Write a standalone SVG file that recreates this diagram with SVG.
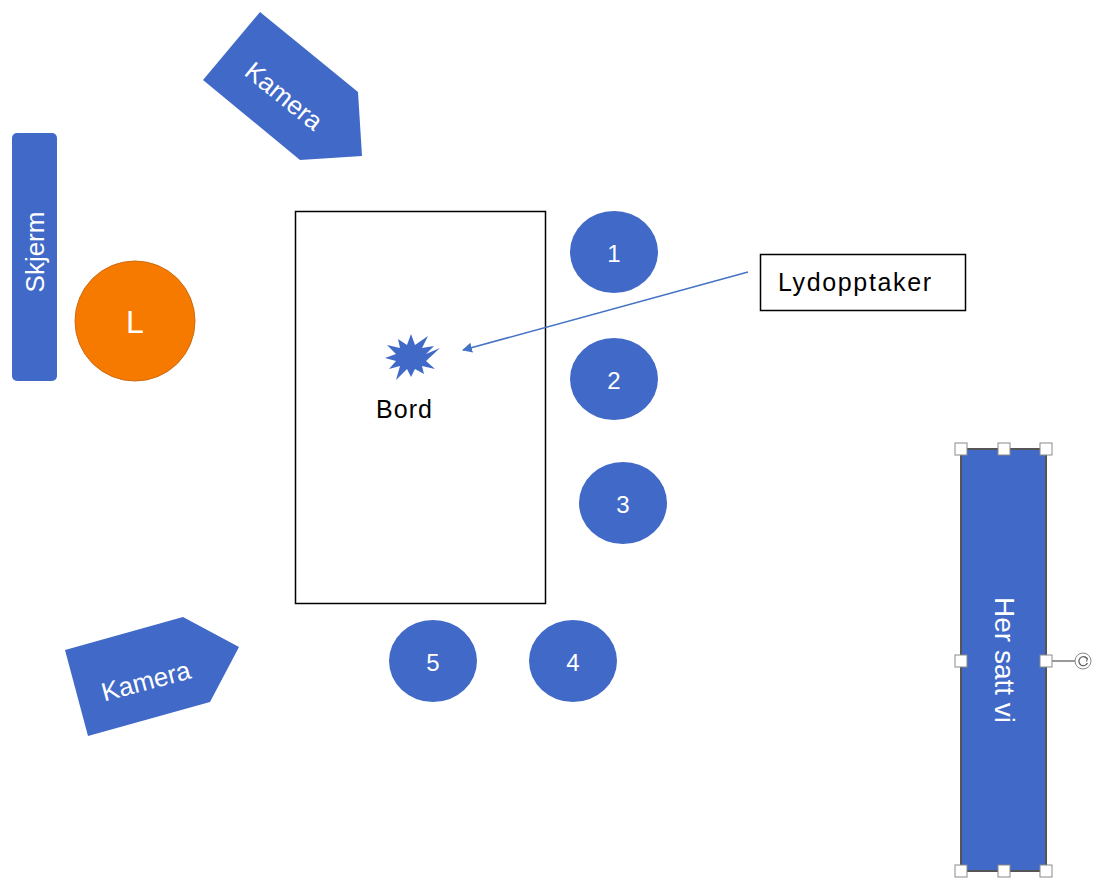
<svg xmlns="http://www.w3.org/2000/svg" width="1095" height="881" viewBox="0 0 1095 881">
<style>
.blue{fill:#4169C8;}
.seat{fill:#4169C8;}
.wt{fill:#ffffff;font-family:"Liberation Sans",Arial,sans-serif;text-anchor:middle;dominant-baseline:central;}
.bt{fill:#000000;font-family:"Liberation Sans",Arial,sans-serif;}
.handle{fill:#ffffff;stroke:#8a8a8a;stroke-width:1;}
</style>
<defs>
<marker id="ah" viewBox="0 0 10 10" refX="9" refY="5" markerWidth="10" markerHeight="10" markerUnits="userSpaceOnUse" orient="auto">
<path d="M0,0 L10,5 L0,10 z" fill="#4472C4"/>
</marker>
</defs>
<rect width="1095" height="881" fill="#ffffff"/>

<g id="kamera-top">
<polygon class="blue" points="260,12 358,92 362,156 300,160 203,80"/>
<text class="wt" font-size="26" transform="translate(284,96) rotate(39)">Kamera</text>
</g>

<g id="kamera-bottom">
<polygon class="blue" points="65,650 183,617 239,647 210,702 88,736"/>
<text class="wt" font-size="26" transform="translate(146,681) rotate(-15)">Kamera</text>
</g>

<g id="skjerm">
<rect class="blue" x="12" y="133" width="45" height="248" rx="5"/>
<text class="wt" font-size="26" transform="translate(35,252) rotate(-90)">Skjerm</text>
</g>

<g id="L">
<circle cx="135" cy="321" r="60" fill="#F77A00" stroke="#D06A10" stroke-width="1"/>
<text class="wt" font-size="32" x="135" y="322">L</text>
</g>

<g id="bord">
<rect x="295.5" y="211.5" width="250" height="392" fill="#ffffff" stroke="#000000" stroke-width="1.5"/>
<polygon class="blue" points="440,348 426,354 434,346 422,348 428,336 415,345 411,334 407,345 398,339 400,348 387,345 396,354 385,358 396,361 389,369 400,366 396,380 407,369 411,377 415,369 424,374 422,366 435,369 426,361"/>
<text class="bt" font-size="25" x="404" y="418" text-anchor="middle" textLength="56">Bord</text>
</g>

<g id="seat1"><ellipse class="seat" cx="614" cy="252" rx="44" ry="41"/><text class="wt" font-size="24" x="614" y="253">1</text></g>
<g id="seat2"><ellipse class="seat" cx="614" cy="379" rx="44" ry="41"/><text class="wt" font-size="24" x="614" y="380">2</text></g>
<g id="seat3"><ellipse class="seat" cx="623" cy="503" rx="44" ry="41"/><text class="wt" font-size="24" x="623" y="504">3</text></g>
<g id="seat4"><ellipse class="seat" cx="573" cy="661" rx="44" ry="41"/><text class="wt" font-size="24" x="573" y="662">4</text></g>
<g id="seat5"><ellipse class="seat" cx="433" cy="661" rx="44" ry="41"/><text class="wt" font-size="24" x="433" y="662">5</text></g>

<g id="lydopptaker">
<rect x="760.5" y="254.5" width="205" height="56" fill="#ffffff" stroke="#000000" stroke-width="1.5"/>
<text class="bt" font-size="25" x="778" y="291" textLength="153">Lydopptaker</text>
</g>

<g id="her-satt-vi">
<rect x="961" y="449" width="85" height="422" fill="#4169C8" stroke="#555555" stroke-width="2"/>
<text class="wt" font-size="28" transform="translate(1004,660) rotate(90)">Her satt vi</text>
<line x1="1052" y1="661" x2="1075" y2="661" stroke="#555555" stroke-width="1.2"/>
<circle cx="1083" cy="661" r="8" fill="#ffffff" stroke="#8a8a8a" stroke-width="1"/>
<path d="M1087,658.5 A4.5,4.5 0 1 0 1087.5,663" fill="none" stroke="#666666" stroke-width="1.3"/>
<path d="M1084.5,657 L1087.5,658.5 L1086.5,661.5" fill="none" stroke="#666666" stroke-width="1.1"/>
<rect class="handle" x="955" y="443" width="12" height="12"/>
<rect class="handle" x="998" y="443" width="12" height="12"/>
<rect class="handle" x="1040" y="443" width="12" height="12"/>
<rect class="handle" x="955" y="655" width="12" height="12"/>
<rect class="handle" x="1040" y="655" width="12" height="12"/>
<rect class="handle" x="955" y="865" width="12" height="12"/>
<rect class="handle" x="998" y="865" width="12" height="12"/>
<rect class="handle" x="1040" y="865" width="12" height="12"/>
</g>

<g id="connectors">
<line x1="748" y1="272" x2="463" y2="350" stroke="#4472C4" stroke-width="1.5" marker-end="url(#ah)"/>
</g>
</svg>
